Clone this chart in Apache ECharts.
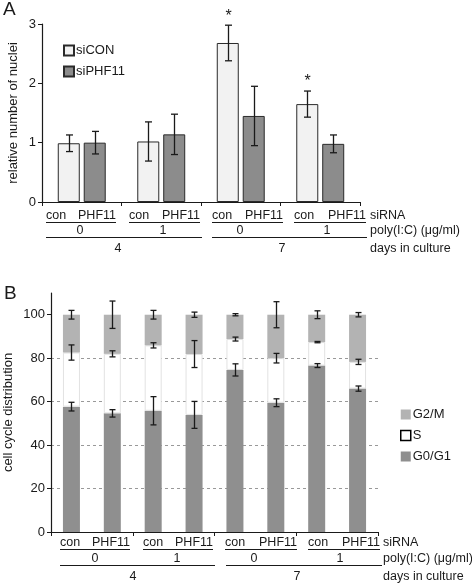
<!DOCTYPE html>
<html><head><meta charset="utf-8">
<script src="https://cdn.jsdelivr.net/npm/echarts@6/dist/echarts.min.js"></script>
<style>html,body{margin:0;padding:0;background:#fff}#c{width:472px;height:585px}</style>
</head><body><div id="c"></div>
<script>
// ---- Panel A data ----
const groupsA = ['4d-0', '4d-1', '7d-0', '7d-1'];
const siCON = [0.99, 1.02, 2.68, 1.65];
const siCONErr = [0.14, 0.33, 0.30, 0.22];
const siPHF11 = [1.00, 1.14, 1.45, 0.98];
const siPHF11Err = [0.19, 0.34, 0.50, 0.15];
const siCONSig = [false, false, true, true];
const yTicksA = [0, 1, 2, 3];

// ---- Panel B data ----
const barsB = ['con-0-4', 'PHF11-0-4', 'con-1-4', 'PHF11-1-4', 'con-0-7', 'PHF11-0-7', 'con-1-7', 'PHF11-1-7'];
const g0g1 = [57.7, 54.6, 55.8, 53.9, 74.6, 59.5, 76.6, 66.0];
const g0g1Err = [2.0, 1.7, 6.5, 6.2, 2.8, 1.8, 0.9, 1.2];
const sPhase = [24.9, 27.4, 30.1, 28.0, 14.2, 20.5, 10.8, 12.3];
const sPhaseErr = [3.5, 1.4, 1.2, 6.2, 0.9, 2.2, 0.3, 1.2];
const g2m = [17.4, 18.0, 14.1, 18.1, 11.2, 20.0, 12.6, 21.7];
const g2mErr = [2.0, 6.3, 2.0, 1.2, 0.5, 6.0, 1.8, 1.0];
const yTicksB = [0, 20, 40, 60, 80, 100];

// ---- label rows ----
const siRNALabels = ['con', 'PHF11'];
const polyLabels = ['0', '1', '0', '1'];
const dayLabels = ['4', '7'];
const rowTitles = ['siRNA', 'poly(I:C) (\u03bcg/ml)', 'days in culture'];

const FONT = 'Liberation Sans, Arial, Helvetica, sans-serif';
const TXT = '#1a1a1a';

const chart = echarts.init(document.getElementById('c'), null, {renderer: 'canvas'});

function errRender(offsetPx, capHalf) {
  return function (params, api) {
    const cat = api.value(0), v = api.value(1), e = api.value(2), side = api.value(3), sig = api.value(4);
    const pT = api.coord([cat, v + e]);
    const pB = api.coord([cat, v - e]);
    const cx = Math.round(pT[0] + side * offsetPx) + 0.5;
    const st = {stroke: '#1a1a1a', lineWidth: 1.3};
    const children = [
      {type: 'line', shape: {x1: cx, y1: pT[1], x2: cx, y2: pB[1]}, style: st},
      {type: 'line', shape: {x1: cx - capHalf, y1: pT[1], x2: cx + capHalf, y2: pT[1]}, style: st},
      {type: 'line', shape: {x1: cx - capHalf, y1: pB[1], x2: cx + capHalf, y2: pB[1]}, style: st}
    ];
    if (sig) {
      children.push({type: 'text', style: {text: '*', x: cx, y: pT[1] - 9, align: 'center', verticalAlign: 'middle',
        font: '16px ' + FONT, fill: TXT}});
    }
    return {type: 'group', children: children};
  };
}

const errA = [];
siCON.forEach((v, i) => errA.push([i, v, siCONErr[i], -1, siCONSig[i] ? 1 : 0]));
siPHF11.forEach((v, i) => errA.push([i, v, siPHF11Err[i], 1, 0]));

const errB = [];
g0g1.forEach((v, i) => {
  errB.push([i, v, g0g1Err[i], 0, 0]);
  errB.push([i, v + sPhase[i], sPhaseErr[i], 0, 0]);
  errB.push([i, v + sPhase[i] + g2m[i], g2mErr[i], 0, 0]);
});

// annotation rows (layout only)
function rows(cfg) {
  const els = [];
  const t = (text, x, y, align) => els.push({type: 'text', style: {text, x, y, align: align || 'center', verticalAlign: 'middle', font: '12.5px ' + FONT, fill: TXT}, silent: true});
  const l = (x1, x2, y) => els.push({type: 'line', shape: {x1, y1: y + 0.5, x2, y2: y + 0.5}, style: {stroke: '#1a1a1a', lineWidth: 1.2}, silent: true});
  cfg.sub.forEach((s) => {
    t(siRNALabels[0], s[0], cfg.y1, 'left');
    t(siRNALabels[1], s[1], cfg.y1, 'right');
    l(s[0], s[1], cfg.l1);
  });
  polyLabels.forEach((p, i) => t(p, cfg.polyX[i], cfg.y2));
  cfg.big.forEach((b) => l(b[0], b[1], cfg.l2));
  dayLabels.forEach((d, i) => t(d, cfg.dayX[i], cfg.y3));
  t(rowTitles[0], cfg.rx, cfg.y1, 'left');
  t(rowTitles[1], cfg.rx, cfg.y2, 'left');
  t(rowTitles[2], cfg.rx, cfg.y3, 'left');
  return els;
}

const graphics = [
  {type: 'text', style: {text: 'A', x: 3, y: 10, verticalAlign: 'middle', font: '19px ' + FONT, fill: TXT}},
  {type: 'text', style: {text: 'B', x: 4, y: 294, verticalAlign: 'middle', font: '19px ' + FONT, fill: TXT}}
].concat(rows({
  sub: [[46, 116], [129, 200], [212, 283], [294, 366]], big: [[46, 202], [212, 367]],
  polyX: [80, 163, 240, 327], dayX: [118, 282], rx: 370, y1: 216, l1: 222, y2: 231, l2: 237, y3: 249
})).concat(rows({
  sub: [[60, 130], [143, 213], [225, 297], [308, 380]], big: [[60, 215], [226, 382]],
  polyX: [95, 177, 254, 340], dayX: [133, 297], rx: 383, y1: 543, l1: 549, y2: 559, l2: 565, y3: 577
}));

const axisLineStyle = {lineStyle: {color: '#1a1a1a', width: 1.2}};
const option = {
  animation: false,
  backgroundColor: '#fff',
  textStyle: {fontFamily: FONT},
  grid: [
    {left: 42, top: 24, width: 318, height: 178, containLabel: false, outerBoundsMode: 'none'},
    {left: 51, top: 293, width: 327, height: 239, containLabel: false, outerBoundsMode: 'none'}
  ],
  legend: [
    {orient: 'vertical', left: 58, top: 39, icon: 'rect', itemWidth: 10, itemHeight: 10, itemGap: 8,
      textStyle: {fontSize: 13, color: TXT, fontFamily: FONT, padding: [0, 0, 0, -3]},
      data: ['siCON', 'siPHF11']},
    {orient: 'vertical', left: 395, top: 403, icon: 'rect', itemWidth: 10, itemHeight: 10, itemGap: 8,
      textStyle: {fontSize: 13, color: TXT, fontFamily: FONT, padding: [0, 0, 0, -3]},
      data: [{name: 'G2/M'}, {name: 'S', itemStyle: {borderColor: '#000', borderWidth: 1.5}}, {name: 'G0/G1'}]}
  ],
  xAxis: [
    {type: 'category', gridIndex: 0, data: groupsA, axisLine: axisLineStyle,
      axisTick: {show: true, length: 4, lineStyle: {color: '#1a1a1a'}}, axisLabel: {show: false}},
    {type: 'category', gridIndex: 1, data: barsB, axisLine: axisLineStyle,
      axisTick: {show: true, length: 4, lineStyle: {color: '#1a1a1a'}}, axisLabel: {show: false}}
  ],
  yAxis: [
    {type: 'value', gridIndex: 0, min: yTicksA[0], max: yTicksA[yTicksA.length - 1], interval: 1,
      axisLine: {show: true, lineStyle: {color: '#1a1a1a', width: 1.2}},
      axisTick: {show: true, length: 4, lineStyle: {color: '#1a1a1a'}},
      axisLabel: {fontSize: 13, color: TXT, margin: 6, fontFamily: FONT},
      splitLine: {show: false},
      name: 'relative number of nuclei', nameLocation: 'middle', nameGap: 22, nameMoveOverlap: false,
      nameTextStyle: {fontSize: 13, color: TXT, fontFamily: FONT}},
    {type: 'value', gridIndex: 1, min: 0, max: 110, interval: 20,
      axisLine: {show: true, lineStyle: {color: '#1a1a1a', width: 1.2}},
      axisTick: {show: true, length: 4, lineStyle: {color: '#1a1a1a'}, customValues: yTicksB},
      axisLabel: {fontSize: 13, color: TXT, margin: 6, fontFamily: FONT, customValues: yTicksB},
      splitLine: {show: true, showMinLine: false, showMaxLine: false, lineStyle: {color: '#999', type: [3, 3], width: 1}},
      name: 'cell cycle distribution', nameLocation: 'middle', nameGap: 36, nameMoveOverlap: false,
      nameTextStyle: {fontSize: 13, color: TXT, fontFamily: FONT}}
  ],
  series: [
    {name: 'siCON', type: 'bar', xAxisIndex: 0, yAxisIndex: 0, data: siCON, barWidth: 22, barGap: '18%',
      itemStyle: {color: '#f2f2f2', borderColor: '#2a2a2a', borderWidth: 1}},
    {name: 'siPHF11', type: 'bar', xAxisIndex: 0, yAxisIndex: 0, data: siPHF11, barWidth: 22, barGap: '18%',
      itemStyle: {color: '#8c8c8c', borderColor: '#2a2a2a', borderWidth: 1}},
    {name: 'errA', type: 'custom', xAxisIndex: 0, yAxisIndex: 0, data: errA, renderItem: errRender(13, 3.5), z: 5},
    {name: 'G0/G1', type: 'bar', xAxisIndex: 1, yAxisIndex: 1, stack: 'cc', data: g0g1, barWidth: 17,
      itemStyle: {color: '#8f8f8f'}},
    {name: 'S', type: 'bar', xAxisIndex: 1, yAxisIndex: 1, stack: 'cc', data: sPhase, barWidth: 17,
      itemStyle: {color: '#ffffff', borderColor: '#e2e2e2', borderWidth: 1}},
    {name: 'G2/M', type: 'bar', xAxisIndex: 1, yAxisIndex: 1, stack: 'cc', data: g2m, barWidth: 17,
      itemStyle: {color: '#b3b3b3'}},
    {name: 'errB', type: 'custom', xAxisIndex: 1, yAxisIndex: 1, data: errB, renderItem: errRender(0, 3), z: 5}
  ],
  graphic: graphics
};
chart.setOption(option);
</script>
</body></html>
